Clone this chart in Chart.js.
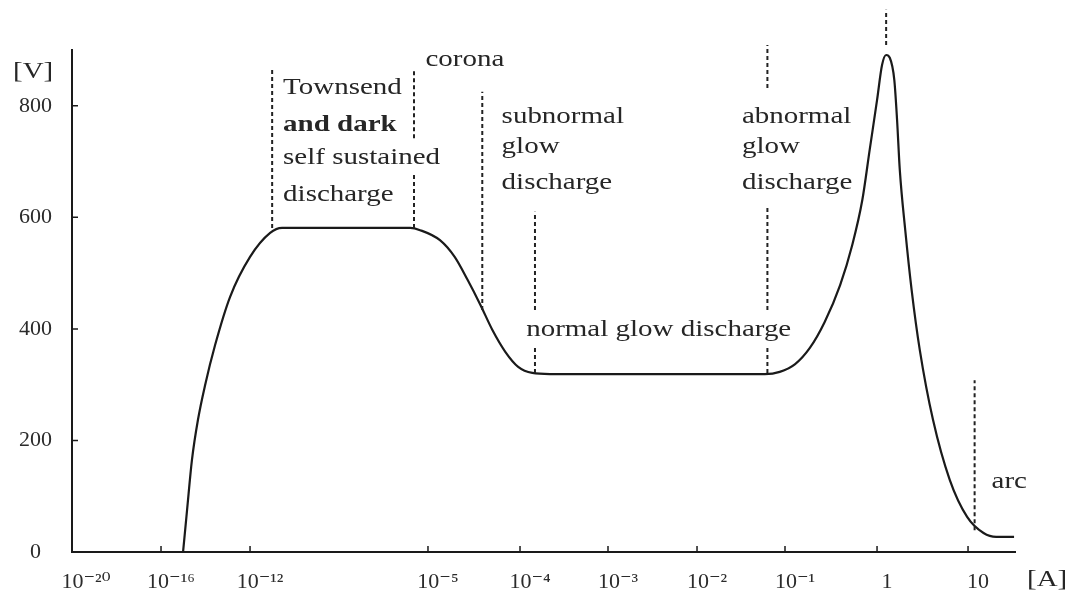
<!DOCTYPE html>
<html>
<head>
<meta charset="utf-8">
<title>Gas discharge V-I characteristic</title>
<script src="https://cdn.jsdelivr.net/npm/chart.js@4.4.1/dist/chart.umd.min.js"></script>
<style>
  html, body { margin: 0; padding: 0; background: #fff; }
  #wrap { width: 1067px; height: 608px; }
</style>
</head>
<body>
<div id="wrap"><canvas id="vi" width="1067" height="608"></canvas></div>
<script>
// curve: current as log10(I/A), voltage in V
const CURRENT_EXP = [-15.01, -14.83, -14.61, -14.34, -14.02, -13.57, -12.90, -12.0, -11.21, -10.74, -10.03,
  -5.70, -5.31, -4.87, -4.71, -4.57, -4.43, -4.30, -4.16, -4.02, -3.86, -3.66,
  -1.23, -1.06, -0.89, -0.73, -0.57, -0.40, -0.27, -0.16, -0.08, 0, 0.055, 0.10,
  0.14, 0.19, 0.22, 0.25, 0.31, 0.38, 0.47, 0.615, 0.80, 0.99, 1.165, 1.30, 1.49];
const VOLTAGE = [0, 75, 165, 237, 299, 371, 457, 529, 572, 581, 581,
  581, 577, 559, 529, 488, 443, 398, 359, 332, 321, 319,
  319, 323, 337, 366, 412, 479, 550, 631, 721, 810, 873, 891,
  886, 846, 775, 685, 577, 470, 362, 237, 129, 63, 34, 27, 27];

const X_TICKS = [-20, -16, -12, -5, -4, -3, -2, -1, 0, 1];
const X_TICK_LABELS = ['10⁻²⁰', '10⁻¹⁶', '10⁻¹²', '10⁻⁵', '10⁻⁴', '10⁻³', '10⁻²', '10⁻¹', '1', '10'];
const Y_TICKS = [0, 200, 400, 600, 800];

// the printed current axis is not evenly spaced: exponent -> share of axis length
const AXIS_EXP = [-20.5, -20, -16, -12, -5, -4, -3, -2, -1, 0, 1, 1.5];
const AXIS_FRAC = [0, 0.0042, 0.0944, 0.1888, 0.3775, 0.4751, 0.5684, 0.6628, 0.7561, 0.8537, 0.9502, 1];

// dashed region borders: exponent, list of [V from, V to]
const BORDER_EXP = [-11.13, -5.55, -4.41, -3.83, -1.20, 0.10, 1.07];
const BORDER_SPANS = [
  [[581, 864]],
  [[742, 864], [581, 680]],
  [[434, 825]],
  [[434, 610], [321, 371]],
  [[832, 909], [434, 617], [321, 371]],
  [[909, 972]],
  [[39, 308]]
];

// region names: text, exponent of left edge, V of text middle
const REGION_TEXT = ['Townsend', 'and dark', 'self sustained', 'discharge', 'corona',
  'subnormal', 'glow', 'discharge', 'abnormal', 'glow', 'discharge',
  'normal glow discharge', 'arc'];
const REGION_EXP = [-10.7, -10.7, -10.7, -10.7, -5.1, -4.2, -4.2, -4.2, -1.49, -1.49, -1.49, -3.93, 1.25];
const REGION_V = [832, 766, 706, 640, 882, 780, 726, 662, 780, 726, 662, 398, 125];
const REGION_BOLD = [false, true, false, false, false, false, false, false, false, false, false, false, false];

const SERIF = '"Liberation Serif", "DejaVu Serif", serif';
const INK = '#1a1a1a';
const TEXT_STRETCH = 1.26;

function interp(v, xs, ys) {
  if (v <= xs[0]) return ys[0];
  for (let i = 1; i < xs.length; i++) {
    if (v <= xs[i]) {
      const t = (v - xs[i - 1]) / (xs[i] - xs[i - 1]);
      return ys[i - 1] + t * (ys[i] - ys[i - 1]);
    }
  }
  return ys[ys.length - 1];
}

class SegmentedScale extends Chart.LinearScale {
  getPixelForValue(value) {
    return this.getPixelForDecimal(interp(value, AXIS_EXP, AXIS_FRAC));
  }
  getValueForPixel(pixel) {
    return interp(this.getDecimalForPixel(pixel), AXIS_FRAC, AXIS_EXP);
  }
}
SegmentedScale.id = 'segmented';
SegmentedScale.defaults = Chart.LinearScale.defaults;
Chart.register(SegmentedScale);

function wideText(ctx, str, px, py, bold) {
  ctx.save();
  ctx.font = (bold ? 'bold ' : '') + '23px ' + SERIF;
  ctx.fillStyle = '#262626';
  ctx.textAlign = 'left';
  ctx.textBaseline = 'middle';
  ctx.translate(px, py);
  ctx.scale(TEXT_STRETCH, 1);
  ctx.fillText(str, 0, 0);
  ctx.restore();
}

const annotate = {
  id: 'annotate',
  afterDraw(chart) {
    const { ctx, chartArea: area } = chart;
    const x = chart.scales.x, y = chart.scales.y;

    // inward tick marks
    ctx.save();
    ctx.strokeStyle = INK;
    ctx.lineWidth = 1.5;
    ctx.beginPath();
    Y_TICKS.slice(1).forEach(v => {
      const py = y.getPixelForValue(v);
      ctx.moveTo(area.left, py);
      ctx.lineTo(area.left + 6, py);
    });
    X_TICKS.slice(1).forEach(v => {
      const px = x.getPixelForValue(v);
      ctx.moveTo(px, area.bottom);
      ctx.lineTo(px, area.bottom - 6);
    });
    ctx.stroke();

    // dashed region borders
    ctx.setLineDash([4, 3]);
    ctx.lineWidth = 2;
    ctx.strokeStyle = '#222';
    BORDER_EXP.forEach((e, i) => {
      const px = x.getPixelForValue(e);
      BORDER_SPANS[i].forEach(([a, b]) => {
        ctx.beginPath();
        ctx.moveTo(px, y.getPixelForValue(a));
        ctx.lineTo(px, y.getPixelForValue(b));
        ctx.stroke();
      });
    });
    ctx.restore();

    REGION_TEXT.forEach((t, i) => {
      wideText(ctx, t, x.getPixelForValue(REGION_EXP[i]), y.getPixelForValue(REGION_V[i]), REGION_BOLD[i]);
    });

    // axis units
    wideText(ctx, '[V]', area.left - 59, area.top + 22, false);
    wideText(ctx, '[A]', area.right + 12, area.bottom + 28, false);
  }
};

new Chart(document.getElementById('vi').getContext('2d'), {
  type: 'line',
  data: {
    datasets: [{
      data: CURRENT_EXP.map((e, i) => ({ x: e, y: VOLTAGE[i] })),
      borderColor: INK,
      borderWidth: 2.2,
      pointRadius: 0,
      cubicInterpolationMode: 'monotone',
      fill: false
    }]
  },
  options: {
    responsive: false,
    devicePixelRatio: 1,
    animation: false,
    layout: { padding: { left: 0, right: 52, top: 50, bottom: 10 } },
    plugins: { legend: { display: false }, tooltip: { enabled: false } },
    scales: {
      x: {
        type: 'segmented',
        min: -20.5,
        max: 1.5,
        afterBuildTicks: s => { s.ticks = X_TICKS.map(v => ({ value: v })); },
        afterFit: s => { s.height = 46; },
        grid: { display: false, drawTicks: false },
        border: { display: true, color: INK, width: 2 },
        ticks: {
          autoSkip: false,
          maxRotation: 0,
          padding: 17,
          labelOffset: 10,
          color: '#2b2b2b',
          font: { family: SERIF, size: 22 },
          callback: (v, i) => X_TICK_LABELS[i]
        }
      },
      y: {
        min: 0,
        max: 900,
        afterBuildTicks: s => { s.ticks = Y_TICKS.map(v => ({ value: v })); },
        afterFit: s => { s.width = 72; },
        grid: { display: false, drawTicks: false },
        border: { display: true, color: INK, width: 2 },
        ticks: {
          padding: 20,
          crossAlign: 'center',
          color: '#2b2b2b',
          font: { family: SERIF, size: 22 }
        }
      }
    }
  },
  plugins: [annotate]
});
</script>
</body>
</html>
